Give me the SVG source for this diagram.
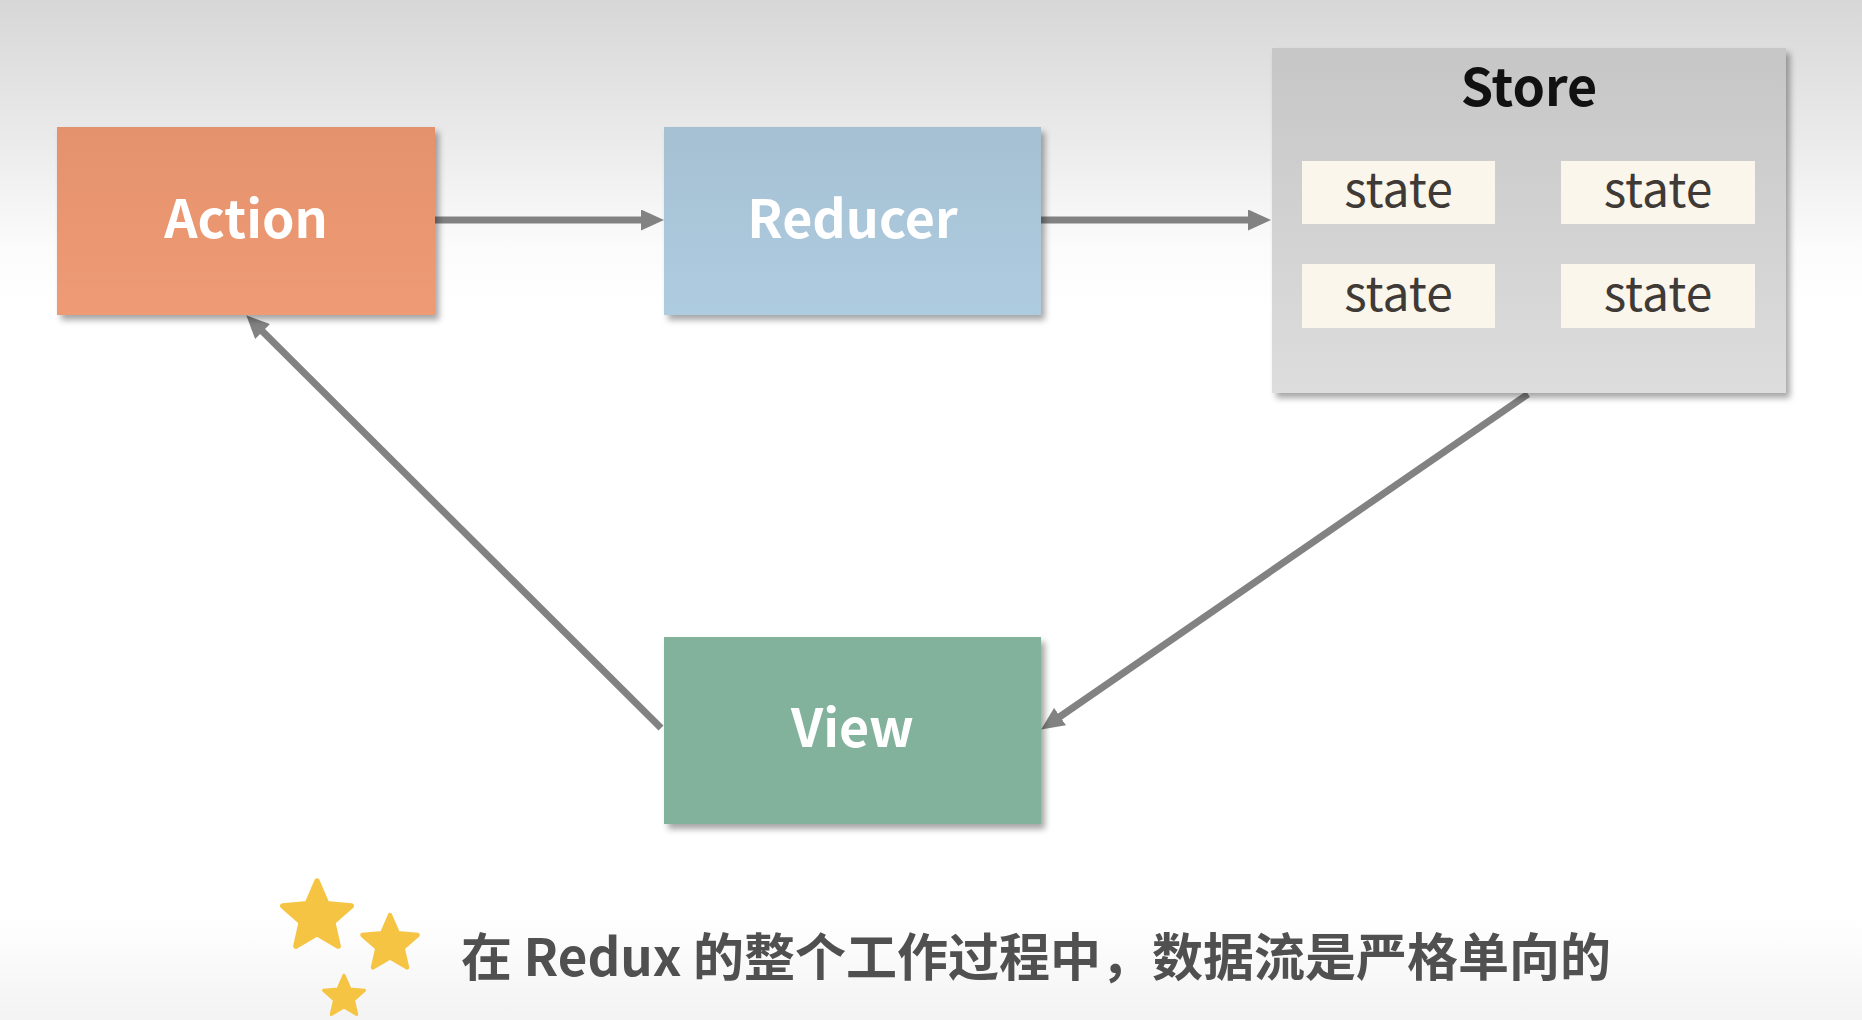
<svg xmlns="http://www.w3.org/2000/svg" width="1862" height="1020" viewBox="0 0 1862 1020">
  <defs>
    <linearGradient id="bg" x1="0" y1="0" x2="0" y2="1">
      <stop offset="0" stop-color="#D7D7D7"/>
      <stop offset="0.12" stop-color="#E8E8E8"/>
      <stop offset="0.24" stop-color="#FBFBFB"/>
      <stop offset="0.3" stop-color="#FFFFFF"/>
      <stop offset="0.9" stop-color="#FFFFFF"/>
      <stop offset="1" stop-color="#F3F3F3"/>
    </linearGradient>
    <linearGradient id="gAction" x1="0" y1="0" x2="0" y2="1">
      <stop offset="0" stop-color="#E4916D"/>
      <stop offset="1" stop-color="#EE9B75"/>
    </linearGradient>
    <linearGradient id="gReducer" x1="0" y1="0" x2="0" y2="1">
      <stop offset="0" stop-color="#A6C0D3"/>
      <stop offset="1" stop-color="#AECCE0"/>
    </linearGradient>
    <linearGradient id="gStore" x1="0" y1="0" x2="0" y2="1">
      <stop offset="0" stop-color="#C6C6C6"/>
      <stop offset="1" stop-color="#DDDDDD"/>
    </linearGradient>
    <filter id="shadow" x="-10%" y="-10%" width="125%" height="130%">
      <feDropShadow dx="4" dy="5" stdDeviation="3" flood-color="#000" flood-opacity="0.35"/>
    </filter>
    <marker id="arrow" markerUnits="userSpaceOnUse" markerWidth="23" markerHeight="21" refX="7" refY="10.5" orient="auto" viewBox="0 0 23 21">
      <path d="M0,0 L23,10.5 L0,21 Z" fill="#828282"/>
    </marker>
    <path id="star" d="M0,-10 L2.704,-3.721 L9.511,-3.090 L4.375,1.421 L5.878,8.090 L0,4.6 L-5.878,8.090 L-4.375,1.421 L-9.511,-3.090 L-2.704,-3.721 Z"/>
    <style>
      .label { font-family: "Noto Sans CJK SC", "Noto Sans", sans-serif; font-weight: 700; font-size: 52px; fill: #FFFFFF; text-anchor: middle; }
      .store { font-family: "Noto Sans CJK SC", "Noto Sans", sans-serif; font-weight: 700; font-size: 52px; fill: #111111; text-anchor: middle; }
      .state { font-family: "Noto Sans CJK SC", "Noto Sans", sans-serif; font-weight: 400; font-size: 48px; fill: #3F3A36; text-anchor: middle; }
      .stateBox { fill: #FBF6EC; }
      .conn { stroke: #828282; stroke-width: 7; fill: none; marker-end: url(#arrow); }
      .note { font-family: "Noto Sans CJK SC", "Noto Sans", sans-serif; font-weight: 700; font-size: 51px; fill: #505050; }
      .starShape { fill: #F5C443; stroke: #F5C443; stroke-width: 1.5; stroke-linejoin: round; }
    </style>
  </defs>

  <rect x="0" y="0" width="1862" height="1020" fill="url(#bg)"/>

  <g id="connectors">
    <line class="conn" x1="435" y1="220" x2="648" y2="220"/>
    <line class="conn" x1="1041" y1="220" x2="1255" y2="220"/>
    <line class="conn" x1="1528" y1="394" x2="1054.3" y2="720.5"/>
    <line class="conn" x1="661" y1="728" x2="257.6" y2="326.6"/>
  </g>

  <g id="action">
    <rect x="57" y="127" width="378" height="188" fill="url(#gAction)" filter="url(#shadow)"/>
    <text class="label" x="246" y="238">Action</text>
  </g>

  <g id="reducer">
    <rect x="664" y="127" width="377" height="188" fill="url(#gReducer)" filter="url(#shadow)"/>
    <text class="label" x="852.5" y="238">Reducer</text>
  </g>

  <g id="store">
    <rect x="1272" y="48" width="514" height="345" fill="url(#gStore)" filter="url(#shadow)"/>
    <text class="store" x="1529" y="106">Store</text>
    <g id="state1">
      <rect class="stateBox" x="1302" y="161" width="193" height="63"/>
      <text class="state" x="1398.5" y="207">state</text>
    </g>
    <g id="state2">
      <rect class="stateBox" x="1561" y="161" width="194" height="63"/>
      <text class="state" x="1658" y="207">state</text>
    </g>
    <g id="state3">
      <rect class="stateBox" x="1302" y="264" width="193" height="64"/>
      <text class="state" x="1398.5" y="311">state</text>
    </g>
    <g id="state4">
      <rect class="stateBox" x="1561" y="264" width="194" height="64"/>
      <text class="state" x="1658" y="311">state</text>
    </g>
  </g>

  <g id="view">
    <rect x="664" y="637" width="377" height="187" fill="#82B29C" filter="url(#shadow)"/>
    <text class="label" x="852.5" y="747">View</text>
  </g>

  <g id="stars">
    <use href="#star" class="starShape" transform="translate(317,917) scale(3.6)"/>
    <use href="#star" class="starShape" transform="translate(390,944) scale(2.9)"/>
    <use href="#star" class="starShape" transform="translate(344,997) scale(2.15)"/>
  </g>

  <g id="note">
    <text class="note" x="461" y="976">在 Redux 的整个工作过程中，数据流是严格单向的</text>
  </g>
</svg>
